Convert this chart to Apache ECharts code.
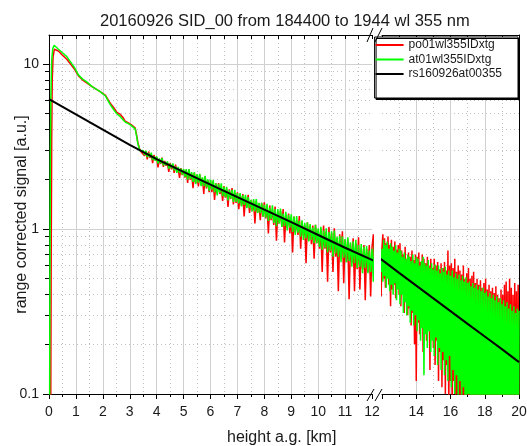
<!DOCTYPE html>
<html><head><meta charset="utf-8">
<script src="https://cdn.jsdelivr.net/npm/echarts@6/dist/echarts.min.js"></script>
<style>html,body{margin:0;padding:0;background:#fff}#c{width:527px;height:446px}</style>
</head><body><div id="c"></div>
<script>
// ---------- text ----------
const titleText = '20160926 SID_00 from 184400 to 1944 wl 355 nm';
const xName = 'height a.g. [km]';
const yName = 'range corrected signal [a.u.]';
const seriesNames = ['po01wl355IDxtg', 'at01wl355IDxtg', 'rs160926at00355'];

// ---------- ticks ----------
const yMajorTicks = [0.1, 1, 10];
const yMinorTicks = [0.2, 0.3, 0.4, 0.5, 0.6, 0.7, 0.8, 0.9, 2, 3, 4, 5, 6, 7, 8, 9];

// ---------- data ----------
// molecular reference (black)
const blackH = [0,1,2,3,4,5,6,7,8,9,10,11,12,13,14,15,16,17,18,19,20];
const blackV = [6.13,4.96,4.01,3.24,2.65,2.22,1.86,1.56,1.31,1.10,0.92,0.77,0.65,0.542,0.454,0.380,0.318,0.266,0.223,0.187,0.156];

// near range part (0 - 3.45 km)
const greenNearH = [0.02,0.035,0.05,0.07,0.1,0.14,0.19,0.25,0.35,0.5,0.66,0.8,0.95,1.09,1.25,1.4,1.6,1.9,2.1,2.27,2.4,2.52,2.65,2.75,2.83,2.95,3.05,3.2,3.25,3.3,3.38,3.45];
const greenNearV = [0.05,0.5,2.5,6.5,10.5,12.4,13.0,12.9,12.3,11.7,11.1,10.3,9.5,8.6,8.1,7.8,7.3,6.8,6.4,5.7,5.3,5.0,4.8,4.6,4.45,4.35,4.25,4.05,3.7,3.3,2.98,2.9];
const redNearH = [0.06,0.08,0.1,0.12,0.15,0.2,0.27,0.35,0.5,0.66,0.8,0.95,1.09,1.25,1.4,1.6,1.9,2.1,2.27,2.4,2.52,2.65,2.75,2.83,2.95,3.05,3.2,3.25,3.3,3.38,3.45];
const redNearV = [0.05,0.6,3.5,8.0,11.0,12.3,12.5,12.0,11.3,10.7,10.0,9.3,8.5,8.0,7.7,7.3,6.8,6.45,5.8,5.45,5.1,4.95,4.75,4.5,4.4,4.3,4.1,3.75,3.35,3.0,2.9];

// noisy far range part (3.5 - 20 km)
const noisyH = [3.5,3.55,3.6,3.65,3.7,3.75,3.8,3.85,3.9,3.95,
 4,4.05,4.1,4.15,4.2,4.25,4.3,4.35,4.4,4.45,4.5,4.55,4.6,4.65,4.7,4.75,4.8,4.85,4.9,4.95,
 5,5.05,5.1,5.15,5.2,5.25,5.3,5.35,5.4,5.45,5.5,5.55,5.6,5.65,5.7,5.75,5.8,5.85,5.9,5.95,
 6,6.05,6.1,6.15,6.2,6.25,6.3,6.35,6.4,6.45,6.5,6.55,6.6,6.65,6.7,6.75,6.8,6.85,6.9,6.95,
 7,7.05,7.1,7.15,7.2,7.25,7.3,7.35,7.4,7.45,7.5,7.55,7.6,7.65,7.7,7.75,7.8,7.85,7.9,7.95,
 8,8.05,8.1,8.15,8.2,8.25,8.3,8.35,8.4,8.45,8.5,8.55,8.6,8.65,8.7,8.75,8.8,8.85,8.9,8.95,
 9,9.05,9.1,9.15,9.2,9.25,9.3,9.35,9.4,9.45,9.5,9.55,9.6,9.65,9.7,9.75,9.8,9.85,9.9,9.95,
 10,10.05,10.1,10.15,10.2,10.25,10.3,10.35,10.4,10.45,10.5,10.55,10.6,10.65,10.7,10.75,10.8,10.85,10.9,10.95,
 11,11.05,11.1,11.15,11.2,11.25,11.3,11.35,11.4,11.45,11.5,11.55,11.6,11.65,11.7,11.75,11.8,11.85,11.9,11.95,
 12,12.05,12.1,12.15,12.2,12.25,12.3,12.35,12.4,12.45,12.5,12.55,12.6,12.65,12.7,12.75,12.8,12.85,12.9,12.95,
 13,13.05,13.1,13.15,13.2,13.25,13.3,13.35,13.4,13.45,13.5,13.55,13.6,13.65,13.7,13.75,13.8,13.85,13.9,13.95,
 14,14.05,14.1,14.15,14.2,14.25,14.3,14.35,14.4,14.45,14.5,14.55,14.6,14.65,14.7,14.75,14.8,14.85,14.9,14.95,
 15,15.05,15.1,15.15,15.2,15.25,15.3,15.35,15.4,15.45,15.5,15.55,15.6,15.65,15.7,15.75,15.8,15.85,15.9,15.95,
 16,16.05,16.1,16.15,16.2,16.25,16.3,16.35,16.4,16.45,16.5,16.55,16.6,16.65,16.7,16.75,16.8,16.85,16.9,16.95,
 17,17.05,17.1,17.15,17.2,17.25,17.3,17.35,17.4,17.45,17.5,17.55,17.6,17.65,17.7,17.75,17.8,17.85,17.9,17.95,
 18,18.05,18.1,18.15,18.2,18.25,18.3,18.35,18.4,18.45,18.5,18.55,18.6,18.65,18.7,18.75,18.8,18.85,18.9,18.95,
 19,19.05,19.1,19.15,19.2,19.25,19.3,19.35,19.4,19.45,19.5,19.55,19.6,19.65,19.7,19.75,19.8,19.85,19.9,19.95,
 20];
const greenNoisyV = [
 2.99,2.81,2.98,2.73,2.89,2.72,2.90,2.62,2.75,2.59,
 2.76,2.49,2.68,2.50,2.69,2.43,2.56,2.44,2.57,2.32,2.49,2.33,2.50,2.27,2.39,2.19,2.38,2.20,2.32,2.14,
 2.31,2.07,2.31,1.99,2.31,2.01,2.21,1.93,2.21,1.87,2.15,1.91,2.16,1.82,2.06,1.82,2.10,1.78,2.00,1.71,
 1.99,1.73,1.98,1.67,1.89,1.60,1.88,1.66,1.89,1.58,1.80,1.56,1.80,1.49,1.72,1.53,1.73,1.46,1.73,1.46,
 1.65,1.43,1.65,1.37,1.60,1.40,1.61,1.34,1.56,1.34,1.50,1.28,1.52,1.28,1.52,1.25,1.44,1.25,1.44,1.19,
 1.40,1.17,1.42,1.12,1.35,1.15,1.39,1.09,1.32,1.04,1.32,1.08,1.33,1.03,1.24,1.04,1.27,0.98,1.22,1.02,
 1.23,0.96,1.19,0.92,1.20,0.95,1.12,0.90,1.13,0.86,1.09,0.88,1.10,0.84,1.07,0.86,1.02,0.82,1.06,0.82,
 1.01,0.78,1.03,0.75,0.98,0.77,1.01,0.72,0.96,0.74,0.97,0.68,0.98,0.71,0.90,0.68,0.91,0.63,0.90,0.67,
 0.87,0.63,0.89,0.64,0.83,0.59,0.84,0.62,0.86,0.58,0.80,0.59,0.81,0.54,0.78,0.58,0.79,0.54,0.74,0.55,
 0.76,0.48,0.86,0.52,0.80,0.44,0.84,0.50,0.76,0.42,0.82,0.46,0.78,0.40,0.74,0.47,0.80,0.37,0.72,0.43,
 0.76,0.35,0.74,0.40,0.68,0.31,0.72,0.36,0.66,0.30,0.70,0.34,0.68,0.27,0.64,0.32,0.70,0.26,0.62,0.30,
 0.68,0.24,0.66,0.28,0.60,0.21,0.64,0.25,0.68,0.13,0.62,0.23,0.60,0.19,0.65,0.24,0.58,0.18,0.62,0.21,
 0.57,0.17,0.61,0.22,0.56,0.15,0.60,0.19,0.54,0.14,0.58,0.18,0.55,0.13,0.59,0.16,0.53,0.12,0.56,0.17,
 0.52,0.11,0.56,0.14,0.51,0.10,0.54,0.13,0.50,0.09,0.53,0.12,0.49,0.08,0.52,0.11,0.48,0.09,0.51,0.07,
 0.47,0.10,0.48,0.06,0.45,0.09,0.47,0.07,0.44,0.05,0.46,0.08,0.43,0.06,0.45,0.05,0.42,0.07,0.44,0.05,
 0.41,0.06,0.42,0.04,0.39,0.07,0.41,0.05,0.38,0.04,0.40,0.06,0.37,0.04,0.39,0.05,0.36,0.04,0.38,0.05,
 0.35,0.04,0.37,0.05,0.34,0.03,0.36,0.05,0.33,0.04,0.35,0.05,0.32,0.03,0.34,0.04,0.31,0.05,0.33,0.03,
 0.32];
const redNoisyV = [
 2.90,2.78,2.96,2.64,2.95,2.70,2.82,2.51,2.81,2.62,
 2.73,2.36,2.65,2.48,2.71,2.38,2.59,2.42,2.52,2.22,2.52,2.30,2.45,2.19,2.46,2.24,2.34,2.04,2.34,2.12,
 2.29,2.05,2.27,1.90,2.29,1.99,2.16,1.77,2.19,1.89,2.13,1.81,2.14,1.86,2.04,1.63,2.08,1.76,1.98,1.67,
 1.97,1.67,1.96,1.50,1.89,1.64,1.90,1.63,1.80,1.48,1.82,1.55,1.75,1.36,1.74,1.52,1.77,1.41,1.65,1.44,
 1.67,1.32,1.62,1.38,1.63,1.19,1.55,1.35,1.61,1.25,1.49,1.29,1.49,1.08,1.48,1.26,1.43,1.13,1.44,1.19,
 1.45,1.16,1.39,0.94,1.39,1.13,1.31,1.06,1.37,0.85,1.28,1.08,1.29,1.03,1.32,0.83,1.21,1.02,1.24,0.94,
 1.19,0.72,1.19,0.95,1.13,0.92,1.20,0.76,1.11,0.91,1.06,0.62,1.10,0.85,1.05,0.81,1.05,0.66,1.06,0.82,
 0.98,0.76,1.01,0.55,1.05,0.76,0.96,0.48,1.03,0.72,0.95,0.55,1.01,0.68,0.88,0.42,0.93,0.68,0.97,0.47,
 0.86,0.63,0.87,0.375,0.82,0.62,0.88,0.42,0.82,0.57,0.89,0.43,0.77,0.57,0.80,0.37,0.76,0.55,0.80,0.39,
 0.77,0.93,0.50,0.88,0.44,0.82,0.52,0.90,0.46,0.80,0.34,0.86,0.43,0.78,0.46,0.84,0.38,0.75,0.44,0.80,
 0.40,0.82,0.34,0.74,0.40,0.70,0.31,0.78,0.36,0.66,0.30,0.72,0.33,0.68,0.26,0.74,0.31,0.65,0.20,0.70,
 0.12,0.68,0.27,0.72,0.23,0.63,0.28,0.70,0.18,0.66,0.24,0.62,0.21,0.68,0.25,0.60,0.14,0.66,0.22,0.58,
 0.19,0.66,0.15,0.60,0.21,0.63,0.12,0.57,0.18,0.62,0.11,0.58,0.16,0.63,0.10,0.56,0.15,0.74,0.08,0.60,
 0.12,0.62,0.07,0.58,0.12,0.66,0.06,0.55,0.10,0.60,0.05,0.56,0.09,0.53,0.05,0.60,0.08,0.50,0.04,0.54,
 0.07,0.58,0.05,0.50,0.07,0.52,0.04,0.55,0.06,0.47,0.04,0.50,0.06,0.46,0.04,0.49,0.05,0.44,0.03,0.47,
 0.05,0.50,0.04,0.43,0.06,0.46,0.03,0.42,0.05,0.44,0.04,0.41,0.04,0.45,0.03,0.40,0.05,0.38,0.03,0.43,
 0.04,0.40,0.05,0.46,0.03,0.48,0.04,0.42,0.03,0.50,0.05,0.44,0.03,0.40,0.04,0.47,0.05,0.42,0.03,0.46,
 0.04];

// ---------- build ----------
const zip = (h, v) => h.map((x, i) => [x, v[i]]);
const redData = zip(redNearH, redNearV).concat(zip(noisyH, redNoisyV));
const greenData = zip(greenNearH, greenNearV).concat(zip(noisyH, greenNoisyV));
const blackData = zip(blackH, blackV);

const FONT = '"Liberation Sans", Arial, sans-serif';
const TXT = '#1a1a1a';
const L = {top: 35, h: 359, l0: 49, w0: 323, l1: 382, w1: 137};

const solidGrid = {show: true, lineStyle: {color: '#d0d0d0', width: 1}};
const dottedGrid = {show: true, lineStyle: {color: '#c2c2c2', width: 1, type: [1, 3]}};
const blackLine = {show: true, onZero: false, lineStyle: {color: '#000', width: 1}};

const chart = echarts.init(document.getElementById('c'), null, {renderer: 'canvas', width: 527, height: 446});

function lineSeries(name, data, color, width, xi, yi, z) {
  return {name, type: 'line', data, xAxisIndex: xi, yAxisIndex: yi, showSymbol: false, symbol: 'none',
    clip: true, animation: false, z, lineStyle: {color, width}, itemStyle: {color}};
}

chart.setOption({
  backgroundColor: '#fff',
  animation: false,
  textStyle: {fontFamily: FONT},
  title: [
    {text: titleText, left: 100, top: 13, padding: 0,
     textStyle: {fontSize: 16.5, fontWeight: 'normal', color: TXT, fontFamily: FONT}},
    {text: xName, left: 227, top: 430, padding: 0,
     textStyle: {fontSize: 16, fontWeight: 'normal', color: TXT, fontFamily: FONT}}
  ],
  legend: {
    data: seriesNames, orient: 'vertical', right: 9, top: 37,
    itemWidth: 28, itemHeight: 2, itemGap: 0.5, icon: 'rect',
    padding: [1, 16, 17, 1], borderColor: '#000', borderWidth: 1, backgroundColor: '#fff',
    shadowColor: '#000', shadowOffsetX: 1.5, shadowOffsetY: 1.5, shadowBlur: 0,
    selectedMode: false,
    textStyle: {fontSize: 12, color: TXT, fontFamily: FONT, lineHeight: 14}
  },
  grid: [
    {left: L.l0, top: L.top, width: L.w0, height: L.h, containLabel: false, outerBoundsMode: 'none'},
    {left: L.l1, top: L.top, width: L.w1, height: L.h, containLabel: false, outerBoundsMode: 'none'}
  ],
  xAxis: [
    {gridIndex: 0, type: 'value', min: 0, max: 12, interval: 1, position: 'bottom',
     axisLine: blackLine,
     axisTick: {show: true, length: 5, lineStyle: {color: '#000'}},
     minorTick: {show: true, splitNumber: 2, length: 3, lineStyle: {color: '#000'}},
     axisLabel: {fontSize: 14, color: TXT, margin: 11, fontFamily: FONT},
     splitLine: Object.assign({showMaxLine: false}, solidGrid), minorSplitLine: dottedGrid},
    {gridIndex: 1, type: 'value', min: 12, max: 20, interval: 2, position: 'bottom',
     axisLine: blackLine,
     axisTick: {show: true, length: 5, lineStyle: {color: '#000'}},
     minorTick: {show: true, splitNumber: 2, length: 3, lineStyle: {color: '#000'}},
     axisLabel: {fontSize: 14, color: TXT, margin: 11, fontFamily: FONT, showMinLabel: false},
     splitLine: Object.assign({showMinLine: false, showMaxLine: false}, solidGrid), minorSplitLine: dottedGrid},
    {gridIndex: 0, type: 'value', min: 0, max: 12, interval: 0.5, position: 'top',
     axisLine: blackLine, axisTick: {show: true, inside: true, length: 4, lineStyle: {color: '#000'}},
     axisLabel: {show: false}, splitLine: {show: false}},
    {gridIndex: 1, type: 'value', min: 12, max: 20, interval: 1, position: 'top',
     axisLine: blackLine, axisTick: {show: true, inside: true, length: 4, lineStyle: {color: '#000'}},
     axisLabel: {show: false}, splitLine: {show: false}}
  ],
  yAxis: [
    {gridIndex: 0, type: 'log', logBase: 10, min: 0.1, max: 15, position: 'left',
     name: yName, nameLocation: 'middle', nameGap: 19, nameMoveOverlap: false,
     nameTextStyle: {fontSize: 16, color: TXT, fontFamily: FONT},
     axisLine: blackLine,
     axisTick: {show: true, length: 6, customValues: yMajorTicks, lineStyle: {color: '#000'}},
     axisLabel: {customValues: yMajorTicks, fontSize: 14, color: TXT, margin: 10, fontFamily: FONT,
                 formatter: v => String(v)},
     splitLine: solidGrid},
    {gridIndex: 0, type: 'log', logBase: 10, min: 0.1, max: 15, position: 'left',
     axisLine: {show: false},
     axisTick: {show: true, length: 4, customValues: yMinorTicks, lineStyle: {color: '#000'}},
     axisLabel: {show: false}, splitLine: dottedGrid},
    {gridIndex: 1, type: 'log', logBase: 10, min: 0.1, max: 15, position: 'right',
     axisLine: blackLine,
     axisTick: {show: false, customValues: yMajorTicks},
     axisLabel: {show: false}, splitLine: solidGrid},
    {gridIndex: 1, type: 'log', logBase: 10, min: 0.1, max: 15, position: 'right',
     axisLine: {show: false},
     axisTick: {show: false, customValues: yMinorTicks},
     axisLabel: {show: false}, splitLine: dottedGrid}
  ],
  graphic: [
    {type: 'line', shape: {x1: 367, y1: 401, x2: 374, y2: 389}, style: {stroke: '#000', lineWidth: 1}, z: 100},
    {type: 'line', shape: {x1: 375, y1: 401, x2: 382, y2: 389}, style: {stroke: '#000', lineWidth: 1}, z: 100},
    {type: 'line', shape: {x1: 367, y1: 42, x2: 373, y2: 28}, style: {stroke: '#000', lineWidth: 1}, z: 100},
    {type: 'line', shape: {x1: 375, y1: 42, x2: 382, y2: 28}, style: {stroke: '#000', lineWidth: 1}, z: 100}
  ],
  series: [
    lineSeries(seriesNames[0], redData, '#ff0000', 1.5, 0, 0, 2),
    lineSeries(seriesNames[1], greenData, '#00ff00', 1.5, 0, 0, 3),
    lineSeries(seriesNames[2], blackData, '#000000', 2, 0, 0, 4),
    lineSeries(seriesNames[0], redData, '#ff0000', 1.5, 1, 2, 2),
    lineSeries(seriesNames[1], greenData, '#00ff00', 1.5, 1, 2, 3),
    lineSeries(seriesNames[2], blackData, '#000000', 2, 1, 2, 4)
  ]
});
</script></body></html>
